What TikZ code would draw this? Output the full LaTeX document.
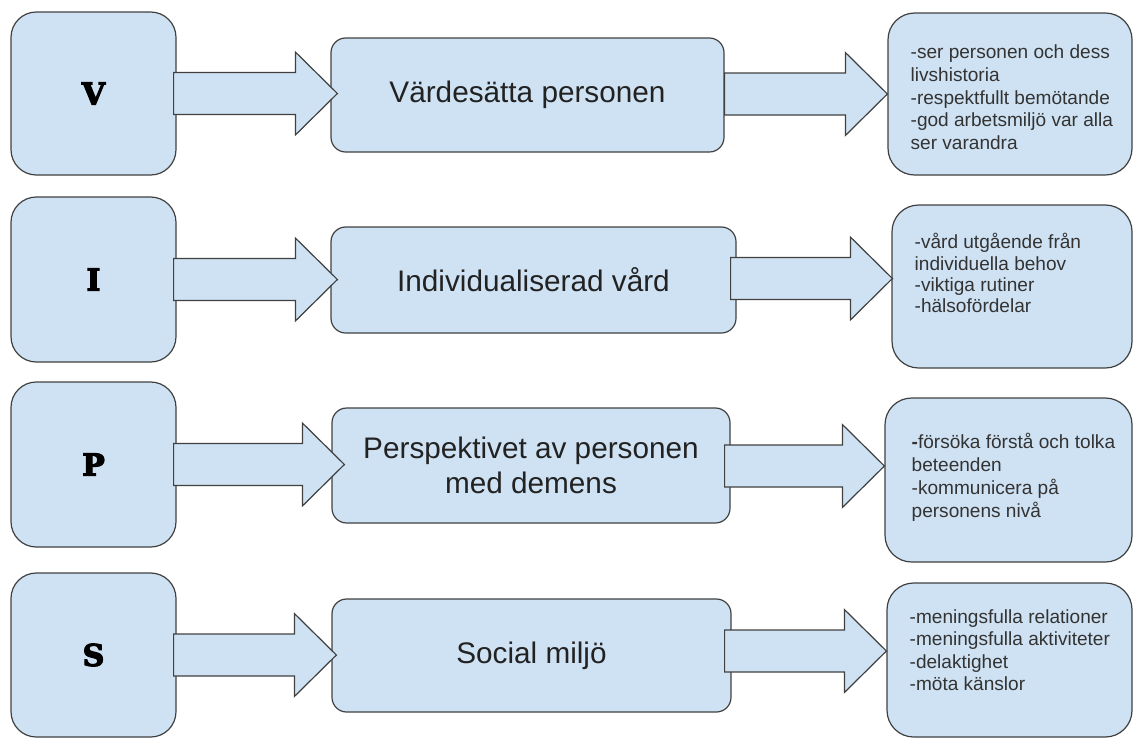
\documentclass[tikz,border=0pt]{standalone}
\usepackage{fontspec}
\setmainfont{Liberation Sans}
\newfontfamily\letterfont{DejaVu Serif}[FakeBold=4]
\usetikzlibrary{calc}
\definecolor{boxfill}{HTML}{CFE2F3}
\definecolor{boxline}{HTML}{404040}
\definecolor{midtxt}{HTML}{222222}
\definecolor{rtxt}{HTML}{333333}
\lineskiplimit=-20pt\relax
\newcommand\blockarrow[2]{%
  \draw[barrow] let \p1=#1, \p2=#2 in
    (\x1,\y2+15.75pt) -- (\x2-31.5pt,\y2+15.75pt) -- (\x2-31.5pt,\y2+31.1pt)
    -- (\x2,\y2) -- (\x2-31.5pt,\y2-31.1pt) -- (\x2-31.5pt,\y2-15.75pt)
    -- (\x1,\y2-15.75pt) -- cycle;}
\begin{document}
\begin{tikzpicture}[x=0.75pt,y=-0.75pt,
  sz/.style 2 args={minimum width=#1*0.75pt, minimum height=#2*0.75pt},
  basebox/.style={draw=boxline, fill=boxfill, line width=0.9pt, inner sep=0pt},
  letterbox/.style={basebox, rounded corners=19pt, font=\letterfont\bfseries\fontsize{22.5}{24}\selectfont, text=black},
  midbox/.style={basebox, rounded corners=11pt, align=center, font=\fontsize{22.3}{26}\selectfont, text=midtxt},
  rbox/.style={basebox, rounded corners=20pt},
  rtext/.style={anchor=north west, inner sep=0pt, align=left, text=rtxt},
  barrow/.style={draw=boxline, fill=boxfill, line width=0.9pt, line join=miter},
]
\useasboundingbox (0,0) rectangle (1134,740);

% letter boxes
\node[letterbox, sz={165}{163}] (V) at (93.5,93.5) {V};
\node[letterbox, sz={165}{165}] (I) at (93.5,279.5) {I};
\node[letterbox, sz={165}{165}] (P) at (93.5,464.5) {P};
\node[letterbox, sz={165}{164}] (S) at (93.5,655) {S};

% middle boxes
\node[midbox, sz={393}{114}] (M1) at (527.5,95) {Värdesätta personen};
\node[midbox, sz={405}{106}] (M2) at (533.5,280) {Individualiserad vård};
\node[midbox, sz={398}{115}] (M3) at (531,465.5) {Perspektivet av personen\\med demens};
\node[midbox, sz={399}{113}] (M4) at (531.5,655.5) {Social miljö};

% right boxes
\node[rbox, sz={244}{162}] (R1) at (1010,94) {};
\node[rbox, sz={240}{163}] (R2) at (1012,286.5) {};
\node[rbox, sz={247}{164}] (R3) at (1008.5,480) {};
\node[rbox, sz={245}{154}] (R4) at (1009.5,660) {};

\node[rtext, font=\fontsize{14.3}{17}\selectfont] (T1) at ($(R1.north west)+(23,27)$)
  {\rule{0pt}{1em}-ser personen och dess\\livshistoria\\-respektfullt bemötande\\-god arbetsmiljö var alla\\ser varandra};
\node[rtext, font=\fontsize{14.3}{16}\selectfont] (T2) at ($(R2.north west)+(23,25)$)
  {\rule{0pt}{1em}-vård utgående från\\individuella behov\\-viktiga rutiner\\-hälsofördelar};
\node[rtext, font=\fontsize{14.3}{17.3}\selectfont] (T3) at ($(R3.north west)+(27,31.5)$)
  {\rule{0pt}{1em}\textbf{-}försöka förstå och tolka\\beteenden\\-kommunicera på\\personens nivå};
\node[rtext, font=\fontsize{14.3}{16.8}\selectfont] (T4) at ($(R4.north west)+(23,21.5)$)
  {\rule{0pt}{1em}-meningsfulla relationer\\-meningsfulla aktiviteter\\-delaktighet\\-möta känslor};

% arrows: letter -> middle
\blockarrow{($(V.east)+(-3,0)$)}{($(V.east -| M1.west)+(7,0)$)}
\blockarrow{($(I.east)+(-3,0)$)}{($(I.east -| M2.west)+(7,0)$)}
\blockarrow{($(P.east)+(-3,0)$)}{($(P.east -| M3.west)+(13,0)$)}
\blockarrow{($(S.east)+(-3,0)$)}{($(S.east -| M4.west)+(5,0)$)}

% arrows: middle -> right
\coordinate (A1) at ($(M1.east)+(0,-1)$);
\coordinate (A2) at ($(M2.east)+(-6,-1.5)$);
\coordinate (A3) at ($(M3.east)+(-6,0.5)$);
\coordinate (A4) at ($(M4.east)+(-7,-4.5)$);
\blockarrow{(A1)}{(A1 -| R1.west)}
\blockarrow{(A2)}{($(A2 -| R2.west)+(1,0)$)}
\blockarrow{(A3)}{(A3 -| R3.west)}
\blockarrow{(A4)}{(A4 -| R4.west)}
\end{tikzpicture}
\end{document}
